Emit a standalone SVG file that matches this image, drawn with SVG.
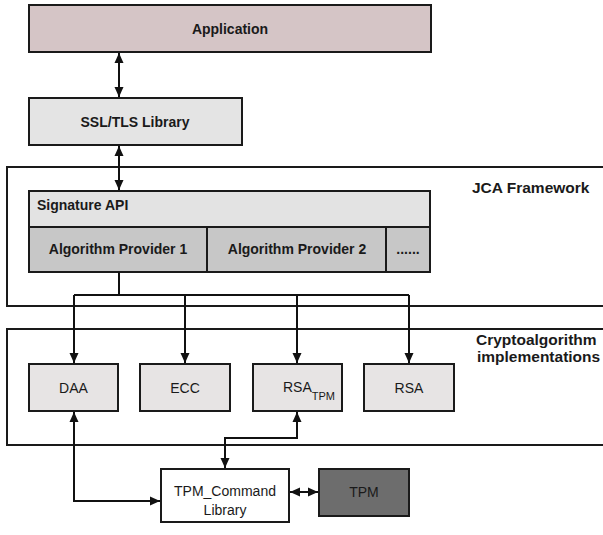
<svg xmlns="http://www.w3.org/2000/svg" width="603" height="535" viewBox="0 0 603 535">
<style>
  .box{stroke:#1a1a1a;stroke-width:2}
  .frame{fill:#ffffff;stroke:#1a1a1a;stroke-width:2}
  .b{font-family:"Liberation Sans",Arial,sans-serif;font-weight:bold;font-size:14px;fill:#1a1a1a}
  .lbl{font-family:"Liberation Sans",Arial,sans-serif;font-weight:bold;font-size:15.5px;fill:#1a1a1a}
  .n{font-family:"Liberation Sans",Arial,sans-serif;font-size:14px;fill:#1a1a1a}
  .c{text-anchor:middle}
  .con{fill:none;stroke:#111;stroke-width:2}
</style>
<defs>
  <marker id="ah" markerUnits="userSpaceOnUse" markerWidth="10" markerHeight="10" viewBox="0 0 10 10" refX="10" refY="5" orient="auto-start-reverse">
    <path d="M0,0.5 L10,5 L0,9.5 Z" fill="#111"/>
  </marker>
</defs>
<rect width="603" height="535" fill="#ffffff"/>

<g id="jca-frame">
  <rect class="frame" x="7" y="167" width="620" height="139"/>
  <text class="lbl" x="472" y="193">JCA Framework</text>
</g>
<g id="crypto-frame">
  <rect class="frame" x="7" y="329" width="620" height="116"/>
  <text class="lbl" x="476" y="345">Cryptoalgorithm</text>
  <text class="lbl" x="477" y="362">implementations</text>
</g>

<g id="application">
  <rect class="box" x="29" y="5" width="402" height="47" fill="#d5c5c6"/>
  <text class="b c" x="230" y="34">Application</text>
</g>
<g id="ssl">
  <rect class="box" x="29" y="98" width="213" height="47" fill="#e4e4e4"/>
  <text class="b c" x="135" y="127">SSL/TLS Library</text>
</g>
<g id="signature-api">
  <rect class="box" x="29" y="191" width="401" height="36" fill="#e3e3e3"/>
  <text class="b" x="37" y="210">Signature API</text>
</g>
<g id="provider1">
  <rect class="box" x="29" y="227" width="178" height="45" fill="#c7c7c7"/>
  <text class="b c" x="118" y="254">Algorithm Provider 1</text>
</g>
<g id="provider2">
  <rect class="box" x="207" y="227" width="179" height="45" fill="#c7c7c7"/>
  <text class="b c" x="297" y="254">Algorithm Provider 2</text>
</g>
<g id="provider-more">
  <rect class="box" x="386" y="227" width="44" height="45" fill="#c7c7c7"/>
  <text class="b c" x="408" y="254">......</text>
</g>

<g id="daa">
  <rect class="box" x="29" y="364" width="89" height="47" fill="#e7e4e4"/>
  <text class="n c" x="73.5" y="393">DAA</text>
</g>
<g id="ecc">
  <rect class="box" x="140" y="364" width="90" height="47" fill="#e7e4e4"/>
  <text class="n c" x="185" y="393">ECC</text>
</g>
<g id="rsa-tpm">
  <rect class="box" x="253" y="364" width="89" height="47" fill="#e7e4e4"/>
  <text class="n" x="283" y="392">RSA<tspan font-size="11" dy="8">TPM</tspan></text>
</g>
<g id="rsa">
  <rect class="box" x="364" y="364" width="90" height="47" fill="#e7e4e4"/>
  <text class="n c" x="409" y="393">RSA</text>
</g>

<g id="tpm-command">
  <rect class="box" x="161" y="469" width="128" height="53" fill="#ffffff"/>
  <text class="n c" x="225" y="496">TPM_Command</text>
  <text class="n c" x="225" y="515">Library</text>
</g>
<g id="tpm">
  <rect class="box" x="319" y="469" width="90" height="47" fill="#6d6d6d"/>
  <text class="n c" x="364" y="497">TPM</text>
</g>

<g id="connectors">
  <path class="con" d="M119,53 V97" marker-start="url(#ah)" marker-end="url(#ah)"/>
  <path class="con" d="M119,146 V190" marker-start="url(#ah)" marker-end="url(#ah)"/>
  <path class="con" d="M119,272 V295 M74,295 H409"/>
  <path class="con" d="M74,295 V363" marker-end="url(#ah)"/>
  <path class="con" d="M185,295 V363" marker-end="url(#ah)"/>
  <path class="con" d="M297,295 V363" marker-end="url(#ah)"/>
  <path class="con" d="M409,295 V363" marker-end="url(#ah)"/>
  <path class="con" d="M74,412 V501 H160" marker-start="url(#ah)" marker-end="url(#ah)"/>
  <path class="con" d="M297,412 V438 H225 V468" marker-start="url(#ah)" marker-end="url(#ah)"/>
  <path class="con" d="M290,492 H318" marker-start="url(#ah)" marker-end="url(#ah)"/>
</g>
</svg>
